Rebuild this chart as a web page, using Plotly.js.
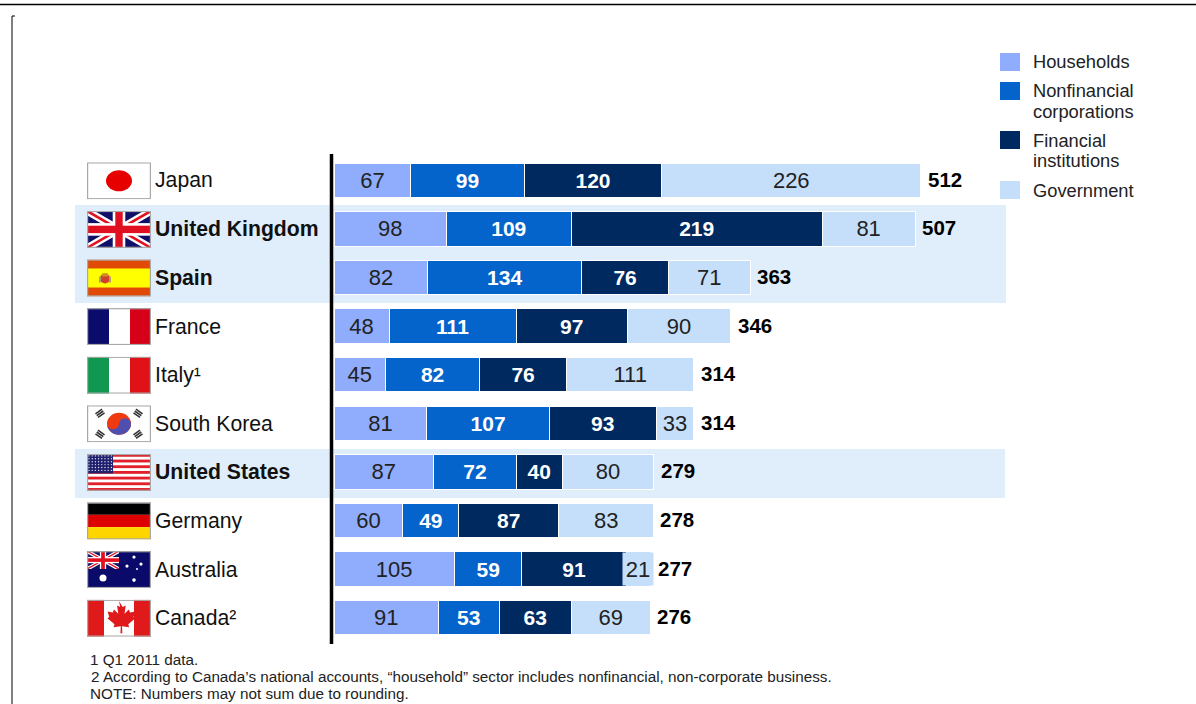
<!DOCTYPE html>
<html><head><meta charset="utf-8">
<script src="https://cdn.plot.ly/plotly-3.0.1.min.js"></script>
<style>html,body{margin:0;padding:0;background:#fff}#c{width:1196px;height:704px}</style>
</head><body><div id="c"></div>
<script>
const countries=['Japan','United Kingdom','Spain','France','Italy','South Korea','United States','Germany','Australia','Canada'];
const labels=['Japan','<b>United Kingdom</b>','<b>Spain</b>','France','Italy¹','South Korea','<b>United States</b>','Germany','Australia','Canada²'];
const households=[67,98,82,48,45,81,87,60,105,91];
const nonfinancial=[99,109,134,111,82,107,72,49,59,53];
const financial=[120,219,76,97,76,93,40,87,91,63];
const government=[226,81,71,90,111,33,80,83,21,69];
const totals=[512,507,363,346,314,314,279,278,277,276];
const seriesNames=['Households','Nonfinancial corporations','Financial institutions','Government'];
const seriesColors=['#8FADFC','#0563CC','#002960','#C5DFFB'];
const footnotes=['1 Q1 2011 data.','2 According to Canada’s national accounts, “household” sector includes nonfinancial, non-corporate business.','NOTE: Numbers may not sum due to rounding.'];

const FONT='"Liberation Sans", Arial, sans-serif';
const L=334,R=1000,T=156,B=642,W=R-L,H=B-T;
const px=x=>(x-L)/W, py=y=>1-(y-T)/H;
const rowY=i=>T+(i+0.5)*H/10;

function uri(body){return 'data:image/svg+xml;utf8,'+encodeURIComponent('<svg xmlns="http://www.w3.org/2000/svg" width="64" height="37" viewBox="0 0 64 37" preserveAspectRatio="none">'+body+'<rect x="0.6" y="0.6" width="62.8" height="35.8" fill="none" stroke="#A8A8A8" stroke-width="1.2"/></svg>');}
function r(x,y,w,h,f){return `<rect x="${x}" y="${y}" width="${w}" height="${h}" fill="${f}"/>`;}
function unionJack(w,h){
  return r(0,0,w,h,'#10106A')+
   `<path d="M0 0L${w} ${h}M${w} 0L0 ${h}" stroke="#fff" stroke-width="${h*0.2}"/>`+
   `<path d="M0 0L${w} ${h}M${w} 0L0 ${h}" stroke="#E01020" stroke-width="${h*0.07}"/>`+
   r(w/2-h*0.17,0,h*0.34,h,'#fff')+r(0,h/2-h*0.17,w,h*0.34,'#fff')+
   r(w/2-h*0.1,0,h*0.2,h,'#E01020')+r(0,h/2-h*0.1,w,h*0.2,'#E01020');
}
function usStars(){let s='';for(let j=0;j<6;j++)for(let i=0;i<8;i++)s+=`<circle cx="${2+i*3.2}" cy="${2+j*2.9}" r="0.7" fill="#DDE"/>`;return s;}
function usStripes(){let s=r(0,0,64,37,'#fff');for(let i=0;i<7;i++)s+=r(0,i*5.69,64,2.85,'#E0202A');return s;}
function trigram(cx,cy,a){let s=`<g transform="translate(${cx} ${cy}) rotate(${a})">`;for(let i=-1;i<=1;i++)s+=r(-4,i*2.2-0.8,8,1.6,'#333');return s+'</g>';}
const flagSvg=[
 r(0,0,64,37,'#fff')+'<ellipse cx="32" cy="18.5" rx="13" ry="10.5" fill="#E60000"/>',
 unionJack(64,37),
 r(0,0,64,37,'#E04A05')+r(0,9,64,19,'#FFFF00')+'<circle cx="18" cy="19" r="5" fill="#D0402A"/><rect x="15" y="14" width="6" height="3" fill="#C89020"/><rect x="12" y="17" width="2" height="6" fill="#B0A070"/><rect x="22" y="17" width="2" height="6" fill="#B0A070"/>',
 r(0,0,22,37,'#0B0B6B')+r(22,0,21,37,'#fff')+r(43,0,21,37,'#D60018'),
 r(0,0,22,37,'#109850')+r(22,0,21,37,'#fff')+r(43,0,21,37,'#E01218'),
 r(0,0,64,37,'#fff')+'<ellipse cx="32" cy="18.5" rx="12" ry="11" fill="#EE3A10"/><path d="M20 18.5a6 5.5 0 0 0 12 0a6 5.5 0 0 1 12 0a12 11 0 0 1-24 0z" fill="#4F4FB0"/>'+trigram(13,8,-35)+trigram(51,8,35)+trigram(13,29,35)+trigram(51,29,-35),
 usStripes()+r(0,0,26,19.5,'#20206E')+usStars(),
 r(0,0,64,12.3,'#000')+r(0,12.3,64,12.3,'#DD0000')+r(0,24.6,64,12.4,'#FFD500'),
 r(0,0,64,37,'#0A0A6A')+`<svg x="0" y="0" width="32" height="18" viewBox="0 0 64 37" preserveAspectRatio="none">${unionJack(64,37)}</svg>`+'<circle cx="16" cy="27" r="3.5" fill="#fff"/><circle cx="47" cy="29" r="1.8" fill="#fff"/><circle cx="40" cy="15" r="1.6" fill="#fff"/><circle cx="47" cy="6" r="1.6" fill="#fff"/><circle cx="54" cy="13" r="1.6" fill="#fff"/><circle cx="50" cy="18" r="1" fill="#fff"/>',
 r(0,0,64,37,'#fff')+r(0,0,17,37,'#E01A1A')+r(47,0,17,37,'#E01A1A')+'<g transform="translate(32 18) scale(1.2) translate(-32 -18)"><path fill="#E01A1A" d="M32 4l3 5 2.6-1.2-1 7 3.6-3.6 1 2.4 4.3-.7-1.4 4.6 1.6 1-6 5 .8 2.5-6-.8.3 5.8h-1.6l.3-5.8-6 .8.8-2.5-6-5 1.6-1-1.4-4.6 4.3.7 1-2.4 3.6 3.6-1-7 2.6 1.2z"/></g>'
];

const stacks=[households,nonfinancial,financial,government];
const textColors=['#222','#fff','#fff','#222'];
const traces=stacks.map((v,k)=>({
  type:'bar',orientation:'h',name:seriesNames[k],y:countries,x:v,
  marker:{color:seriesColors[k],line:{color:'#fff',width:1}},
  text:v.map(n=>(k===1||k===2)?'<b>'+n+'</b>':String(n)),
  textposition:'inside',insidetextanchor:'middle',textangle:0,constraintext:'none',
  textfont:{family:FONT,size:(k===1||k===2)?21:22,color:textColors[k]},hoverinfo:'x+name'
}));

const shapes=[
 {type:'rect',xref:'paper',yref:'paper',x0:px(75),x1:px(1006),y0:py(205),y1:py(303),fillcolor:'#E0EDFB',line:{width:0},layer:'below'},
 {type:'rect',xref:'paper',yref:'paper',x0:px(75),x1:px(1005),y0:py(449),y1:py(498),fillcolor:'#E0EDFB',line:{width:0},layer:'below'},
 {type:'line',xref:'paper',yref:'paper',x0:px(331.5),x1:px(331.5),y0:py(154),y1:py(644),line:{color:'#000',width:3.5}},
 {type:'line',xref:'paper',yref:'paper',x0:px(0),x1:px(1196),y0:py(4.5),y1:py(4.5),line:{color:'#000',width:1.5}},
 {type:'line',xref:'paper',yref:'paper',x0:px(12),x1:px(12),y0:py(16),y1:py(704),line:{color:'#000',width:1}},
 {type:'line',xref:'paper',yref:'paper',x0:px(12),x1:px(15),y0:py(16),y1:py(16),line:{color:'#000',width:1}}
];
seriesColors.forEach((c,i)=>{const t=[53,82,131,181][i];shapes.push({type:'rect',xref:'paper',yref:'paper',x0:px(1000),x1:px(1020),y0:py(t),y1:py(t+18),fillcolor:c,line:{width:0}});});

const ann=(text,x,y,size,extra)=>Object.assign({xref:'paper',yref:'paper',x:px(x),y:py(y),text,showarrow:false,xanchor:'left',yanchor:'middle',align:'left',font:{family:FONT,size,color:'#222'},borderpad:0},extra||{});
const annotations=[];
labels.forEach((t,i)=>annotations.push(ann(t,154,rowY(i),21.2,{font:{family:FONT,size:21.2,color:'#111'}})));
totals.forEach((t,i)=>annotations.push({xref:'x',yref:'y',x:t,y:countries[i],xshift:6,yshift:1,text:'<b>'+t+'</b>',showarrow:false,xanchor:'left',yanchor:'middle',font:{family:FONT,size:20.5,color:'#000'},borderpad:0}));
[['Households',62],['Nonfinancial',90.5],['corporations',112],['Financial',140.5],['institutions',160.5],['Government',191]].forEach(a=>annotations.push(ann(a[0],1031.5,a[1],18.3)));
footnotes.forEach((t,i)=>annotations.push(ann(t,89.5,[659,676,693][i],15.25)));
annotations.push(ann('21',638,rowY(8),22,{xanchor:'center',bgcolor:'#C5DFFB',width:30,height:32,align:'center'}));

const images=flagSvg.map((s,i)=>({source:uri(s),xref:'paper',yref:'paper',x:px(87),y:py(rowY(i)-18),sizex:64/W,sizey:37/H,sizing:'stretch',xanchor:'left',yanchor:'top',layer:'above'}));

Plotly.newPlot('c',traces,{
  width:1196,height:704,barmode:'stack',bargap:0.29,showlegend:false,
  paper_bgcolor:'#fff',plot_bgcolor:'rgba(0,0,0,0)',
  margin:{l:L,r:1196-R,t:T,b:704-B,pad:0},
  xaxis:{range:[0,W/1.146],visible:false,fixedrange:true},
  yaxis:{type:'category',categoryorder:'array',categoryarray:countries,range:[9.5,-0.5],visible:false,fixedrange:true},
  shapes,annotations,images
},{displayModeBar:false,staticPlot:true});
</script></body></html>
